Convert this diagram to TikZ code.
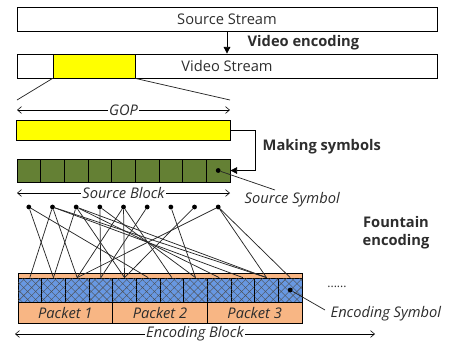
\documentclass[tikz,border=0pt]{standalone}
\usepackage{fontspec}
\setmainfont{Open Sans}
\usetikzlibrary{arrows.meta,patterns.meta}
\definecolor{gopyellow}{RGB}{255,255,0}
\definecolor{symgreen}{RGB}{100,128,52}
\definecolor{encblue}{RGB}{104,152,226}
\definecolor{pktorange}{RGB}{248,182,132}
\definecolor{txtgray}{RGB}{45,45,45}
\newcommand\figsize{\fontsize{11}{13.5}\selectfont}
\begin{document}
\begin{tikzpicture}[x=0.75pt,y=-0.75pt,text=txtgray,font=\figsize,
		bar/.style={draw, line width=0.6pt, inner sep=0pt, minimum height=18pt},
		scell/.style={draw, line width=0.6pt, fill=symgreen, minimum width=17.75pt, minimum height=17.25pt, inner sep=0pt},
		ecell/.style={draw, line width=0.6pt, fill=encblue, minimum width=17.75pt, minimum height=18pt, inner sep=0pt,
			postaction={pattern={Lines[angle=45,distance=4.2pt,line width=0.3pt]}, pattern color=black!70},
			postaction={pattern={Lines[angle=-45,distance=4.2pt,line width=0.3pt]}, pattern color=black!70}},
		pkt/.style={draw, line width=0.6pt, fill=pktorange, minimum width=71pt, minimum height=15.75pt, inner sep=0pt, font=\figsize\itshape},
		sdot/.style={circle, fill=black, inner sep=0pt, minimum size=3.6pt},
		dim/.style={{Straight Barb[length=3pt,width=5pt]}-{Straight Barb[length=3pt,width=5pt]}, line width=0.45pt},
		dimlabel/.style={fill=white, inner sep=1pt, font=\figsize\itshape},
		stage/.style={font=\figsize\bfseries, anchor=west},
		link/.style={line width=0.55pt, draw=black!85},
		flow/.style={-{Triangle[length=5pt,width=5pt]}, line width=0.6pt}]
		\useasboundingbox (0,0) rectangle (450,343);
		% streams
		\node[bar, minimum width=315pt] (srcstream) at (227,19) {Source Stream};
		\node[bar, minimum width=315pt] (vidstream) at (227,66) {Video Stream};
		\node[bar, fill=gopyellow, minimum width=61.5pt] (gopv) at (94,66) {};
		\draw[flow] (srcstream.south) -- (vidstream.north);
		\node[stage] (videnc) at (243,43) {Video encoding};
		\coordinate (gopL) at (17,100);
		\coordinate (gopR) at (230,100);
		\draw[link] (gopv.south west) -- (gopL);
		\draw[link] (gopv.south east) -- (gopR);
		\coordinate (gopA) at (17,110);
		\coordinate (gopB) at (230,110);
		\draw[dim] (gopA) -- node[dimlabel] {GOP} (gopB);
		% source block
		\node[bar, fill=gopyellow, minimum width=160.5pt, minimum height=15pt] (gop) at (123,130) {};
		\foreach \i in {1,...,9}
			\node[scell] (g\i) at ({17+23.67*(\i-0.5)},170.5) {};
		\draw[flow] (gop.east) -- ++(25,0) |- (g9.east);
		\node[stage] (mksym) at (258,147) {Making symbols};
		\node[sdot] (ssym) at (g9) {};
		\coordinate (ssymtip) at (275,190);
		\draw[link] (ssym) -- (ssymtip);
		\node[anchor=west, font=\figsize\itshape] (ssymlabel) at (240,200) {Source Symbol};
		\coordinate (sbA) at (17,193);
		\coordinate (sbB) at (230,193);
		\draw[dim] (sbA) -- node[dimlabel] {Source Block} (sbB);
		% encoding block
		\node[draw, line width=0.6pt, fill=pktorange, minimum width=213pt, minimum height=37.5pt, inner sep=0pt] (eblock) at (160,298) {};
		\foreach \j in {1,...,12}
			\node[ecell] (e\j) at ({18+23.67*(\j-0.5)},290) {};
		\foreach \k in {1,2,3}
			\node[pkt] (p\k) at ({18+94.67*(\k-0.5)},312.5) {Packet \k};
		\foreach \i in {1,...,9}
			\node[sdot] (s\i) at ({17+23.67*(\i-0.5)},207) {};
		\foreach \a/\b in {1/2,1/6,2/1,2/3,2/10,2/11,3/2,3/5,3/9,3/11,4/4,4/8,5/3,5/5,5/7,6/4,7/8,8/5,9/3,9/11,9/12}
			\draw[link] (s\a) -- (e\b.north);
		\node[sdot] (esym) at (e12) {};
		\coordinate (esymtip) at (325,310);
		\draw[link] (esym) -- (esymtip);
		\node[anchor=west, font=\figsize\itshape] (esymlabel) at (326,314) {Encoding Symbol};
		\node[font=\small] (more) at (337,287) {......};
		\node[stage, anchor=center, align=center] (fenc) at (396,233) {Fountain\\encoding};
		\coordinate (ebA) at (15,334);
		\coordinate (ebB) at (375,334);
		\draw[dim] (ebA) -- node[dimlabel] {Encoding Block} (ebB);
	\end{tikzpicture}
\end{document}
